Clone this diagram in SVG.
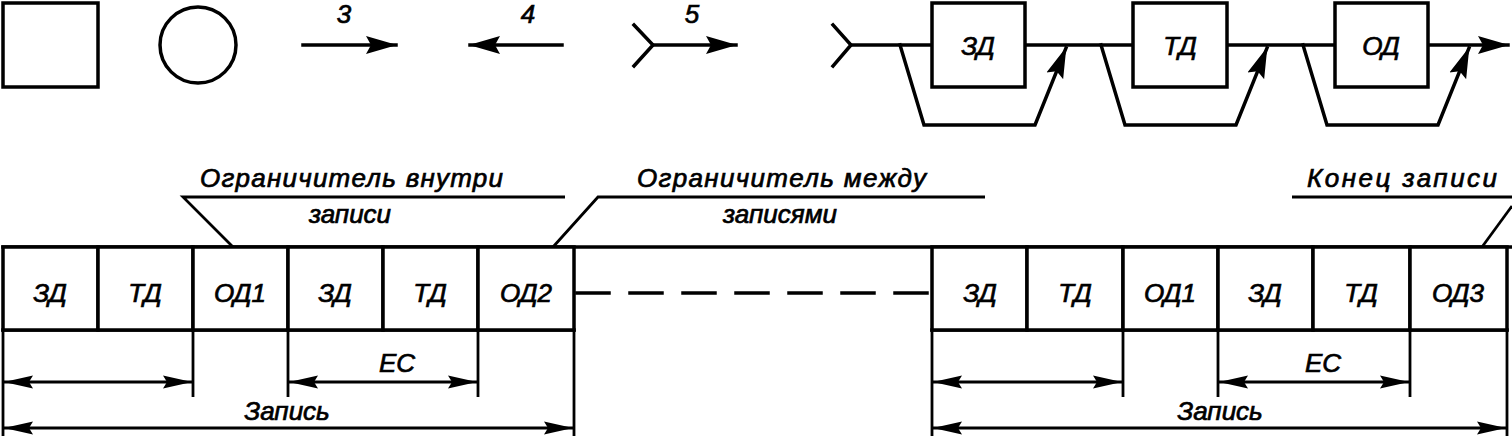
<svg xmlns="http://www.w3.org/2000/svg" width="1512" height="436" viewBox="0 0 1512 436">
<style>
.ln{stroke:#000;stroke-width:3.5;fill:none;stroke-linecap:square}
.thin{stroke:#000;stroke-width:2.8;fill:none}
.box{stroke:#000;stroke-width:3.5;fill:#fff}
.t{font-family:"Liberation Sans",Arial,sans-serif;font-style:italic;font-size:26px;fill:#000;stroke:#000;stroke-width:0.7;text-anchor:middle}
.lbl{font-family:"Liberation Sans",Arial,sans-serif;font-style:italic;font-size:26px;fill:#000;stroke:#000;stroke-width:0.7}
</style>
<defs>
<marker id="ah" markerUnits="userSpaceOnUse" viewBox="0 0 32 20" markerWidth="32" markerHeight="20" refX="30" refY="10" orient="auto-start-reverse"><path d="M0,1 L31,10 L0,19 L5,10 z" fill="#000"/></marker>
<marker id="dh" markerUnits="userSpaceOnUse" viewBox="0 0 30 14" markerWidth="30" markerHeight="14" refX="29" refY="7" orient="auto-start-reverse"><path d="M0,0.5 L29,7 L0,13.5 L4,7 z" fill="#000"/></marker>
</defs>

<!-- legend symbols -->
<g id="sym-square"><rect class="box" x="3" y="3" width="95" height="84"/></g>
<g id="sym-circle"><circle class="box" cx="198" cy="45" r="38"/></g>
<g id="sym-arrow3"><line class="ln" x1="303" y1="45" x2="396" y2="45" marker-end="url(#ah)"/><text class="t" x="344" y="23" font-size="28">3</text></g>
<g id="sym-arrow4"><line class="ln" x1="562" y1="45" x2="470" y2="45" marker-end="url(#ah)"/><text class="t" x="528" y="23" font-size="28">4</text></g>
<g id="sym-arrow5"><polyline class="ln" points="634,25 653,45 634,66"/><line class="ln" x1="653" y1="45" x2="736" y2="45" marker-end="url(#ah)"/><text class="t" x="692" y="23" font-size="28">5</text></g>

<!-- railroad diagram -->
<g id="connectors-top">
<polyline class="ln" points="833,25 851,45 833,66"/>
<line class="ln" x1="851" y1="45" x2="1508" y2="45" marker-end="url(#ah)"/>
<polyline class="ln" points="900,45 924,125 1035,125 1066,48" marker-end="url(#ah)"/>
<polyline class="ln" points="1101,45 1125,125 1236,125 1267,48" marker-end="url(#ah)"/>
<polyline class="ln" points="1303,45 1327,125 1438,125 1469,48" marker-end="url(#ah)"/>
</g>
<g id="rr-zd"><rect class="box" x="932" y="3" width="93" height="84"/><text class="t" x="978" y="55">ЗД</text></g>
<g id="rr-td"><rect class="box" x="1133" y="3" width="94" height="84"/><text class="t" x="1180" y="55">ТД</text></g>
<g id="rr-od"><rect class="box" x="1335" y="3" width="93" height="84"/><text class="t" x="1381" y="55">ОД</text></g>

<!-- callouts -->
<g id="callout-inner">
<text class="lbl" x="200" y="187" textLength="303" lengthAdjust="spacing">Ограничитель внутри</text>
<text class="t" x="350" y="223">записи</text>
<polyline class="thin" points="565,197 183,197 233,247"/>
</g>
<g id="callout-between">
<text class="lbl" x="637" y="187" textLength="289" lengthAdjust="spacing">Ограничитель между</text>
<text class="t" x="780" y="223">записями</text>
<polyline class="thin" points="985,197 598,197 553,247"/>
</g>
<g id="callout-end">
<text class="lbl" x="1307" y="187" textLength="190" lengthAdjust="spacing">Конец записи</text>
<polyline class="thin" points="1292,197 1512,197"/>
<line class="thin" x1="1512" y1="206" x2="1482" y2="247"/>
</g>

<!-- record rows -->
<g id="row-lines">
<line class="ln" x1="3" y1="247" x2="1512" y2="247"/>
<line class="ln" x1="3" y1="330" x2="574" y2="330"/>
<line class="ln" x1="932" y1="330" x2="1507" y2="330"/>
<line class="ln" x1="577" y1="293" x2="930" y2="293" stroke-dasharray="32 21" stroke-linecap="butt"/>
</g>
<g id="cell-l1"><rect class="box" x="3" y="247" width="95" height="83"/><text class="t" x="50" y="302">ЗД</text></g>
<g id="cell-l2"><rect class="box" x="98" y="247" width="95" height="83"/><text class="t" x="145" y="302">ТД</text></g>
<g id="cell-l3"><rect class="box" x="193" y="247" width="95" height="83"/><text class="t" x="240" y="302">ОД1</text></g>
<g id="cell-l4"><rect class="box" x="288" y="247" width="95" height="83"/><text class="t" x="335" y="302">ЗД</text></g>
<g id="cell-l5"><rect class="box" x="383" y="247" width="95" height="83"/><text class="t" x="430" y="302">ТД</text></g>
<g id="cell-l6"><rect class="box" x="478" y="247" width="96" height="83"/><text class="t" x="526" y="302">ОД2</text></g>
<g id="cell-r1"><rect class="box" x="932" y="247" width="95" height="83"/><text class="t" x="980" y="302">ЗД</text></g>
<g id="cell-r2"><rect class="box" x="1027" y="247" width="96" height="83"/><text class="t" x="1075" y="302">ТД</text></g>
<g id="cell-r3"><rect class="box" x="1123" y="247" width="95" height="83"/><text class="t" x="1170" y="302">ОД1</text></g>
<g id="cell-r4"><rect class="box" x="1218" y="247" width="95" height="83"/><text class="t" x="1265" y="302">ЗД</text></g>
<g id="cell-r5"><rect class="box" x="1313" y="247" width="97" height="83"/><text class="t" x="1361" y="302">ТД</text></g>
<g id="cell-r6"><rect class="box" x="1410" y="247" width="97" height="83"/><text class="t" x="1458" y="302">ОД3</text></g>

<!-- dimension lines -->
<g id="connectors-dim">
<line class="thin" x1="3" y1="330" x2="3" y2="436"/>
<line class="thin" x1="193" y1="330" x2="193" y2="397"/>
<line class="thin" x1="288" y1="330" x2="288" y2="397"/>
<line class="thin" x1="478" y1="330" x2="478" y2="397"/>
<line class="thin" x1="574" y1="330" x2="574" y2="436"/>
<line class="thin" x1="932" y1="330" x2="932" y2="436"/>
<line class="thin" x1="1123" y1="330" x2="1123" y2="397"/>
<line class="thin" x1="1218" y1="330" x2="1218" y2="397"/>
<line class="thin" x1="1410" y1="330" x2="1410" y2="397"/>
<line class="thin" x1="1507" y1="330" x2="1507" y2="436"/>
<line class="thin" x1="4" y1="382" x2="192" y2="382" marker-start="url(#dh)" marker-end="url(#dh)"/>
<line class="thin" x1="289" y1="382" x2="477" y2="382" marker-start="url(#dh)" marker-end="url(#dh)"/>
<line class="thin" x1="4" y1="428" x2="573" y2="428" marker-start="url(#dh)" marker-end="url(#dh)"/>
<line class="thin" x1="933" y1="382" x2="1122" y2="382" marker-start="url(#dh)" marker-end="url(#dh)"/>
<line class="thin" x1="1219" y1="382" x2="1409" y2="382" marker-start="url(#dh)" marker-end="url(#dh)"/>
<line class="thin" x1="933" y1="428" x2="1506" y2="428" marker-start="url(#dh)" marker-end="url(#dh)"/>
</g>
<g id="dim-labels">
<text class="t" x="397" y="372">ЕС</text>
<text class="t" x="287" y="420">Запись</text>
<text class="t" x="1323" y="372">ЕС</text>
<text class="t" x="1220" y="420">Запись</text>
</g>
</svg>
